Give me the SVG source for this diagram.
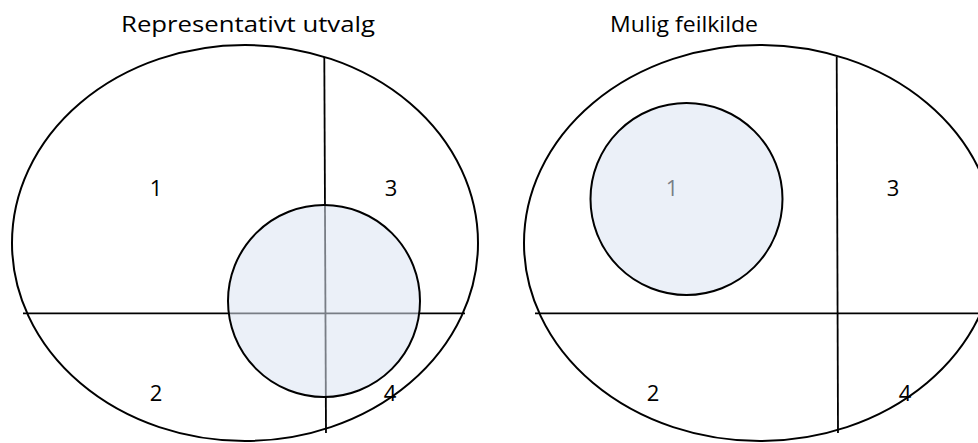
<svg xmlns="http://www.w3.org/2000/svg" width="978" height="443" viewBox="0 0 978 443">
<style>
.shape{fill:none;stroke:#000;stroke-width:2}
.div{fill:none;stroke:#000;stroke-width:1.8}
.sample{fill:#dae3f2;fill-opacity:0.55;stroke:#000;stroke-width:2}
.t{font-family:"Open Sans","Liberation Sans",sans-serif;fill:#000}
.title{font-size:22px;text-anchor:start}
.num{font-size:22px;text-anchor:middle}
</style>
<rect width="978" height="443" fill="#fff"/>
<g id="left">
  <text class="t title" x="121" y="32" textLength="254" lengthAdjust="spacingAndGlyphs">Representativt utvalg</text>
  <ellipse class="shape" cx="245" cy="243" rx="233" ry="198"/>
  <g id="left-dividers">
    <line class="div" x1="324.3" y1="57" x2="326" y2="433"/>
    <line class="div" x1="23" y1="313.3" x2="465" y2="313.3"/>
  </g>
  <text class="t num" x="156" y="196">1</text>
  <text class="t num" x="391" y="196">3</text>
  <text class="t num" x="156" y="401">2</text>
  <text class="t num" x="390" y="401">4</text>
  <circle id="left-sample" class="sample" cx="324" cy="301" r="96"/>
</g>
<g id="right">
  <text class="t title" x="610" y="32" textLength="148" lengthAdjust="spacingAndGlyphs">Mulig feilkilde</text>
  <ellipse class="shape" cx="760" cy="243" rx="236" ry="198"/>
  <g id="right-dividers">
    <line class="div" x1="836.7" y1="57" x2="838" y2="433"/>
    <line class="div" x1="535" y1="313.3" x2="978" y2="313.3"/>
  </g>
  <text class="t num" x="672" y="196">1</text>
  <text class="t num" x="893" y="196">3</text>
  <text class="t num" x="653" y="401">2</text>
  <text class="t num" x="905" y="401">4</text>
  <circle id="right-sample" class="sample" cx="686.5" cy="199" r="96"/>
</g>
</svg>
